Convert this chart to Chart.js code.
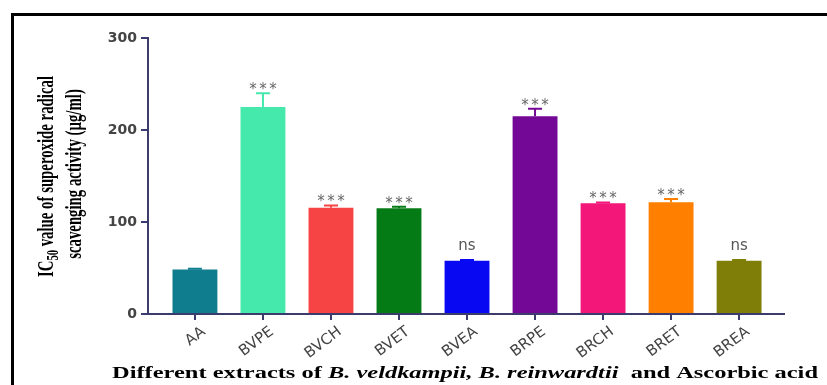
<!DOCTYPE html>
<html>
<head>
<meta charset="utf-8">
<script src="https://cdn.jsdelivr.net/npm/chart.js@4/dist/chart.umd.min.js"></script>
<style>
  html, body { margin: 0; padding: 0; background: #ffffff; }
  canvas { display: block; }
</style>
</head>
<body>
<canvas id="c" width="827" height="385"></canvas>
<script>
// IC50 of superoxide radical scavenging, mean and upper error (µg/ml)
const categories = ['AA', 'BVPE', 'BVCH', 'BVET', 'BVEA', 'BRPE', 'BRCH', 'BRET', 'BREA'];
const ic50Values = [48.5, 225, 115.5, 115, 58, 215, 120.5, 121.5, 58];
const ic50Errors = [0.8, 15, 2.5, 1.5, 0.6, 8, 0.8, 3.5, 0.6];
const significance = ['', '***', '***', '***', 'ns', '***', '***', '***', 'ns'];
const barColors = ['#107d8e', '#45e9ab', '#f64444', '#047b15', '#0808f2', '#740896', '#f21779', '#ff8000', '#7e7e08'];
const yTicks = [0, 100, 200, 300];

const axisColor = '#3b3b6e';

// Black frame along the top and left edges
const framePlugin = {
  id: 'frame',
  beforeDraw(chart) {
    const ctx = chart.ctx;
    ctx.save();
    ctx.fillStyle = '#ffffff';
    ctx.fillRect(0, 0, chart.width, chart.height);
    ctx.fillStyle = '#000000';
    ctx.fillRect(11, 13, chart.width - 11, 3);
    ctx.fillRect(11, 13, 3, chart.height - 13);
    ctx.restore();
  }
};

// Upper error bars with caps, plus significance marks above them
const errorBarPlugin = {
  id: 'errorBars',
  afterDatasetsDraw(chart) {
    const ctx = chart.ctx;
    const yScale = chart.scales.y;
    const meta = chart.getDatasetMeta(0);
    ctx.save();
    meta.data.forEach((bar, i) => {
      const top = yScale.getPixelForValue(ic50Values[i]);
      const cap = yScale.getPixelForValue(ic50Values[i] + ic50Errors[i]);
      ctx.strokeStyle = barColors[i];
      ctx.lineWidth = 2;
      ctx.beginPath();
      ctx.moveTo(bar.x, top);
      ctx.lineTo(bar.x, cap);
      ctx.moveTo(bar.x - 7, cap);
      ctx.lineTo(bar.x + 7, cap);
      ctx.stroke();

      const mark = significance[i];
      if (!mark) return;
      ctx.textAlign = 'center';
      ctx.textBaseline = 'alphabetic';
      if (mark === 'ns') {
        ctx.fillStyle = '#555555';
        ctx.font = '15px "DejaVu Sans"';
        ctx.fillText(mark, bar.x, cap - 10);
      } else {
        ctx.fillStyle = '#666666';
        ctx.font = '15px "DejaVu Sans"';
        for (let k = -1; k <= 1; k++) {
          ctx.fillText('*', bar.x + k * 10, cap + 1);
        }
      }
    });
    ctx.restore();
  }
};

// Axis titles in a wide serif face; the y title carries a subscript
const titlePlugin = {
  id: 'axisTitles',
  afterDraw(chart) {
    const ctx = chart.ctx;
    ctx.save();
    ctx.fillStyle = '#000000';

    // x axis title with italic species names
    const F = 16;
    const parts = [
      ['bold', 'Different extracts of '],
      ['italic bold', 'B. veldkampii, B. reinwardtii'],
      ['bold', '  and Ascorbic acid']
    ];
    let natural = 0;
    parts.forEach(p => {
      ctx.font = p[0] + ' ' + F + 'px "Liberation Serif"';
      natural += ctx.measureText(p[1]).width;
    });
    const xLeft = 112, xRight = 818, base = 378;
    const sx = (xRight - xLeft) / natural;
    ctx.save();
    ctx.translate(xLeft, base);
    ctx.scale(sx, 1);
    let pos = 0;
    ctx.textBaseline = 'alphabetic';
    ctx.textAlign = 'left';
    parts.forEach(p => {
      ctx.font = p[0] + ' ' + F + 'px "Liberation Serif"';
      ctx.fillText(p[1], pos, 0);
      pos += ctx.measureText(p[1]).width;
    });
    ctx.restore();

    // y axis title, two lines reading upwards
    const G = 14;
    const main = 'bold ' + G + 'px "Liberation Serif"';
    const sub = 'bold ' + Math.round(G * 0.72) + 'px "Liberation Serif"';
    const line1 = [['IC', main, 0], ['50', sub, 3], [' value of superoxide radical', main, 0]];
    const line2 = [['scavenging activity (\u00b5g/ml)', main, 0]];
    const widthOf = segs => segs.reduce((w, s) => { ctx.font = s[1]; return w + ctx.measureText(s[0]).width; }, 0);
    const w1 = widthOf(line1);
    const lenScale = 201 / w1;
    const heightScale = 15 / (0.662 * G);
    const drawLine = (segs, baseX, centerY) => {
      const w = widthOf(segs) * lenScale;
      ctx.save();
      ctx.translate(baseX, centerY + w / 2);
      ctx.rotate(-Math.PI / 2);
      ctx.scale(lenScale, heightScale);
      let p = 0;
      segs.forEach(s => {
        ctx.font = s[1];
        ctx.fillText(s[0], p, s[2]);
        p += ctx.measureText(s[0]).width;
      });
      ctx.restore();
    };
    drawLine(line1, 53, 176.5);
    drawLine(line2, 81, 174);
    ctx.restore();
  }
};

new Chart(document.getElementById('c'), {
  type: 'bar',
  data: {
    datasets: [{
      data: categories.map((c, i) => ({ x: i, y: ic50Values[i] })),
      backgroundColor: barColors,
      borderWidth: 0,
      barPercentage: 0.66,
      categoryPercentage: 1
    }]
  },
  options: {
    responsive: false,
    animation: false,
    devicePixelRatio: 1,
    layout: { padding: { top: 38, right: 43, left: 0, bottom: 0 } },
    plugins: { legend: { display: false }, tooltip: { enabled: false } },
    scales: {
      x: {
        type: 'linear',
        offset: false,
        min: -0.69,
        max: 8.66,
        afterBuildTicks: s => { s.ticks = categories.map((c, i) => ({ value: i })); },
        afterFit: s => { s.height = 71; },
        ticks: {
          autoSkip: false,
          minRotation: 37,
          maxRotation: 37,
          labelOffset: 9,
          padding: 3,
          color: '#444444',
          font: { family: '"DejaVu Sans"', size: 15 },
          callback: v => categories[v]
        },
        grid: { offset: false, drawOnChartArea: false, drawTicks: true, tickLength: 6, color: axisColor, lineWidth: 2 },
        border: { display: true, color: axisColor, width: 2 }
      },
      y: {
        min: 0,
        max: 300,
        afterBuildTicks: s => { s.ticks = yTicks.map(v => ({ value: v })); },
        afterFit: s => { s.width = 148; },
        ticks: {
          color: '#444444',
          padding: 4,
          font: { family: '"DejaVu Sans"', size: 14, weight: 'bold' }
        },
        grid: { drawOnChartArea: false, drawTicks: true, tickLength: 7, color: axisColor, lineWidth: 2 },
        border: { display: true, color: axisColor, width: 2 }
      }
    }
  },
  plugins: [framePlugin, errorBarPlugin, titlePlugin]
});
</script>
</body>
</html>
